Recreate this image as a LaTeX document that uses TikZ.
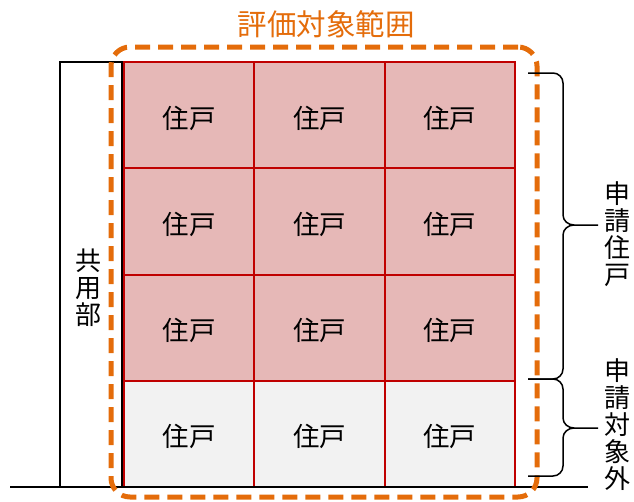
\documentclass[tikz,border=0pt]{standalone}
\usepackage{fontspec}
\setmainfont{Noto Sans CJK JP}
\definecolor{pinkc}{HTML}{E6B8B7}
\definecolor{grayc}{HTML}{F2F2F2}
\definecolor{redc}{HTML}{C00000}
\definecolor{orangec}{HTML}{E46C0A}
\tikzset{
  cell/.style={draw=redc, line width=2pt, minimum width=130.333pt, minimum height=106.25pt, inner sep=0pt, text height=28pt, text depth=2pt, font=\fontsize{26.5}{27}\selectfont},
  vlabel/.style={align=center, inner sep=0pt, font=\fontsize{26}{27}\selectfont},
  bracec/.style={draw=black, line width=1.5pt},
  evalbox/.style={draw=orangec, line width=5pt, dash pattern=on 15pt off 8pt, rounded corners=19pt, minimum width=426pt, minimum height=450pt, inner sep=0pt}
}
\begin{document}
\begin{tikzpicture}[x=1pt,y=-1pt]
\useasboundingbox (0,0) rectangle (634,501);
% common part box
\node[draw=black, line width=1.5pt, minimum width=62pt, minimum height=425pt, inner sep=0pt] (kyoyo) at (91,274.5) {};
\node[vlabel] (kyoyotxt) at (88,288) {共\\用\\部};
% grid cells
\foreach \r in {1,...,4} {
  \foreach \c in {1,2,3} {
    \ifnum\r<4
      \node[cell, fill=pinkc] (c\r\c) at ({124+(\c-0.5)*130.333},{62+(\r-0.5)*106.25}) {住戸};
    \else
      \node[cell, fill=grayc] (c\r\c) at ({124+(\c-0.5)*130.333},{62+(\r-0.5)*106.25}) {住戸};
    \fi
  }
}
% ground line
\coordinate (g1) at (10,487);
\coordinate (g2) at (588,487);
\draw[black, line width=1.5pt] (g1) -- (g2);
% evaluation range
\node[evalbox] (eval) at (324,272) {};
\node[text=orangec, inner sep=0pt, font=\fontsize{29.5}{30}\selectfont] (title) at (326,24) {評価対象範囲};
% braces
\coordinate (b1s) at (528,73);
\coordinate (b1t) at (598,225);
\coordinate (b1e) at (528,379);
\coordinate (b2t) at (598,428);
\coordinate (b2e) at (528,476);
\draw[bracec] (b1s) -- (553,73) to[out=0,in=90] (563,83) -- (563,215) to[out=-90,in=180] (574,225) -- (b1t);
\draw[bracec] (574,225) to[out=180,in=90] (563,235) -- (563,369) to[out=-90,in=0] (553,379) -- (b1e);
\draw[bracec] (b1e) -- (553,379) to[out=0,in=90] (563,389) -- (563,418) to[out=-90,in=180] (574,428) -- (b2t);
\draw[bracec] (574,428) to[out=180,in=90] (563,438) -- (563,466) to[out=-90,in=0] (553,476) -- (b2e);
\node[vlabel, anchor=north] (lab1) at (617,181) {申\\請\\住\\戸};
\node[vlabel, anchor=north] (lab2) at (617,358) {申\\請\\対\\象\\外};
\end{tikzpicture}
\end{document}
